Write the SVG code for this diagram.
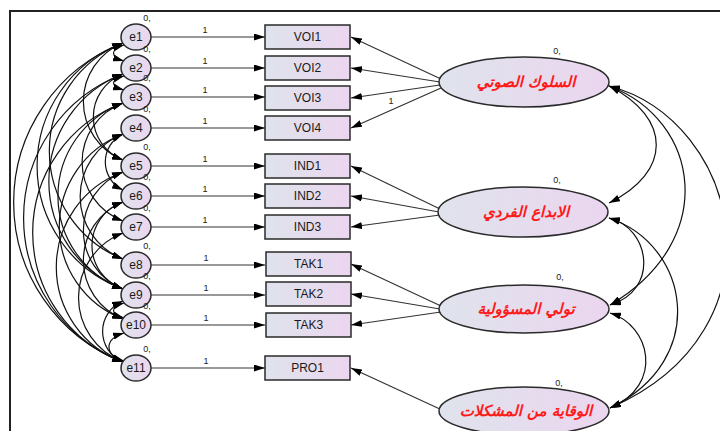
<svg xmlns="http://www.w3.org/2000/svg" width="720" height="431" viewBox="0 0 720 431">
<style>
.sh{fill:url(#g);stroke:#2a2a2a;stroke-width:1.5}
.t{font-family:"Liberation Sans",Arial,sans-serif;font-size:12px;fill:#1a1a1a;text-anchor:middle}
.s{font-family:"Liberation Sans",Arial,sans-serif;font-size:9px;fill:#222;text-anchor:middle}
.ar{font-family:"DejaVu Sans",sans-serif;font-weight:bold;font-style:italic;font-size:15px;fill:#ff1a1a;text-anchor:middle}
.c path{fill:none;stroke:#111;stroke-width:1.2;marker-end:url(#a)}
.c .b{marker-start:url(#a)}
.c .d{stroke:#333}
</style>
<defs>
<linearGradient id="g" x1="0" x2="1" y1="0" y2="0"><stop offset="0" stop-color="#dfe3ec"/><stop offset="1" stop-color="#ebd6ef"/></linearGradient>
<marker id="a" markerUnits="userSpaceOnUse" markerWidth="11" markerHeight="7" refX="11" refY="3.5" orient="auto-start-reverse"><path d="M0,0L11,3.5L0,7z" fill="#000"/></marker>
</defs>
<rect width="720" height="431" fill="#fff"/>
<path d="M10,431V11H720" fill="none" stroke="#222" stroke-width="2"/>
<g class="c" id="connectors">
<path class="d" d="M151,37H265"/><path class="d" d="M151,68H265"/><path class="d" d="M151,97H265"/><path class="d" d="M151,128H265"/>
<path class="d" d="M151,166H265"/><path class="d" d="M151,196H265"/><path class="d" d="M151,227H265"/><path class="d" d="M151,265H265"/>
<path class="d" d="M151,295H265"/><path class="d" d="M151,325H265"/><path class="d" d="M151,368H265"/>
<path class="d" d="M441,79L351,37"/><path class="d" d="M440,82L351,68"/><path class="d" d="M440,85L351,98"/><path class="d" d="M441,88L351,128"/>
<path class="d" d="M440,209L351,166"/><path class="d" d="M439,212L351,196"/><path class="d" d="M440,215L351,227"/>
<path class="d" d="M441,306L351,264"/><path class="d" d="M440,309L351,294"/><path class="d" d="M441,312L351,325"/>
<path class="d" d="M442,410L351,368"/>
<path class="b" d="M609,86C672,118 672,172 609,203"/>
<path class="b" d="M609,86C700,120 720,240 610,305"/>
<path class="b" d="M609,86C740,120 790,330 610,408"/>
<path class="b" d="M609,218C650,228 660,290 610,305"/>
<path class="b" d="M609,218C690,245 710,360 610,408"/>
<path class="b" d="M610,313C650,325 665,385 610,408"/>
<path class="b" d="M124,45C110,49 110,57 124,61"/>
<path class="b" d="M124,76C110,80 110,86 124,90"/>
<path class="b" d="M124,303C110,307 110,314 124,318"/>
<path class="b" d="M124,333C104,339 104,355 124,361"/>
<path class="b" d="M123,301A33 33 0 0 0 123,362"/>
<path class="b" d="M123,43A63 63 0 0 0 123,160"/>
<path class="b" d="M123,74A46 46 0 0 0 123,160"/>
<path class="b" d="M123,43A116 116 0 0 0 123,259"/>
<path class="b" d="M123,43A131 131 0 0 0 123,289"/>
<path class="b" d="M123,43A171 171 0 0 0 123,362"/>
<path class="b" d="M123,74A115 115 0 0 0 123,289"/>
<path class="b" d="M123,74A154 154 0 0 0 123,362"/>
<path class="b" d="M123,103A99 99 0 0 0 123,289"/>
<path class="b" d="M123,103A138 138 0 0 0 123,362"/>
<path class="b" d="M123,103A63 63 0 0 0 123,221"/>
<path class="b" d="M123,134A67 67 0 0 0 123,259"/>
<path class="b" d="M123,134A99 99 0 0 0 123,319"/>
<path class="b" d="M123,134A31 31 0 0 0 123,190"/>
<path class="b" d="M123,172A63 63 0 0 0 123,289"/>
<path class="b" d="M123,172A101 101 0 0 0 123,362"/>
<path class="b" d="M123,202A46 46 0 0 0 123,289"/>
<path class="b" d="M123,202A63 63 0 0 0 123,319"/>
<path class="b" d="M123,233A69 69 0 0 0 123,362"/>
</g>
<g id="e1"><ellipse class="sh" cx="136" cy="37" rx="15" ry="13"/><text class="t" x="136" y="41">e1</text><text class="s" x="147" y="21">0,</text></g>
<g id="e2"><ellipse class="sh" cx="136" cy="68" rx="15" ry="13"/><text class="t" x="136" y="72">e2</text><text class="s" x="147" y="52">0,</text></g>
<g id="e3"><ellipse class="sh" cx="136" cy="97" rx="15" ry="13"/><text class="t" x="136" y="101">e3</text><text class="s" x="147" y="81">0,</text></g>
<g id="e4"><ellipse class="sh" cx="136" cy="128" rx="15" ry="13"/><text class="t" x="136" y="132">e4</text><text class="s" x="147" y="112">0,</text></g>
<g id="e5"><ellipse class="sh" cx="136" cy="166" rx="15" ry="13"/><text class="t" x="136" y="170">e5</text><text class="s" x="147" y="150">0,</text></g>
<g id="e6"><ellipse class="sh" cx="136" cy="196" rx="15" ry="13"/><text class="t" x="136" y="200">e6</text><text class="s" x="147" y="180">0,</text></g>
<g id="e7"><ellipse class="sh" cx="136" cy="227" rx="15" ry="13"/><text class="t" x="136" y="231">e7</text><text class="s" x="147" y="211">0,</text></g>
<g id="e8"><ellipse class="sh" cx="136" cy="265" rx="15" ry="13"/><text class="t" x="136" y="269">e8</text><text class="s" x="147" y="249">0,</text></g>
<g id="e9"><ellipse class="sh" cx="136" cy="295" rx="15" ry="13"/><text class="t" x="136" y="299">e9</text><text class="s" x="147" y="279">0,</text></g>
<g id="e10"><ellipse class="sh" cx="136" cy="325" rx="15" ry="13"/><text class="t" x="136" y="329">e10</text><text class="s" x="147" y="309">0,</text></g>
<g id="e11"><ellipse class="sh" cx="136" cy="368" rx="15" ry="13"/><text class="t" x="136" y="372">e11</text><text class="s" x="147" y="352">0,</text></g>
<g id="w"><text class="s" x="205" y="33">1</text><text class="s" x="205" y="64">1</text><text class="s" x="205" y="93">1</text><text class="s" x="205" y="124">1</text><text class="s" x="205" y="162">1</text><text class="s" x="205" y="192">1</text><text class="s" x="205" y="223">1</text><text class="s" x="206" y="261">1</text><text class="s" x="206" y="291">1</text><text class="s" x="206" y="321">1</text><text class="s" x="206" y="364">1</text><text class="s" x="391" y="104">1</text></g>
<g id="VOI1"><rect class="sh" x="265" y="25" width="85" height="24"/><text class="t" x="307.5" y="41">VOI1</text></g>
<g id="VOI2"><rect class="sh" x="265" y="56" width="85" height="24"/><text class="t" x="307.5" y="72">VOI2</text></g>
<g id="VOI3"><rect class="sh" x="265" y="86" width="85" height="24"/><text class="t" x="307.5" y="102">VOI3</text></g>
<g id="VOI4"><rect class="sh" x="265" y="116" width="85" height="24"/><text class="t" x="307.5" y="132">VOI4</text></g>
<g id="IND1"><rect class="sh" x="265" y="154" width="85" height="24"/><text class="t" x="307.5" y="170">IND1</text></g>
<g id="IND2"><rect class="sh" x="265" y="184" width="85" height="24"/><text class="t" x="307.5" y="200">IND2</text></g>
<g id="IND3"><rect class="sh" x="265" y="215" width="85" height="24"/><text class="t" x="307.5" y="231">IND3</text></g>
<g id="TAK1"><rect class="sh" x="266" y="252" width="85" height="24"/><text class="t" x="308.5" y="268">TAK1</text></g>
<g id="TAK2"><rect class="sh" x="266" y="282" width="85" height="24"/><text class="t" x="308.5" y="298">TAK2</text></g>
<g id="TAK3"><rect class="sh" x="266" y="313" width="85" height="24"/><text class="t" x="308.5" y="329">TAK3</text></g>
<g id="PRO1"><rect class="sh" x="265" y="356" width="85" height="24"/><text class="t" x="307.5" y="372">PRO1</text></g>
<g id="L1"><ellipse class="sh" cx="524" cy="82" rx="85" ry="25"/><text class="ar" x="526" y="87">السلوك الصوتي</text><text class="s" x="557" y="54">0,</text></g>
<g id="L2"><ellipse class="sh" cx="523" cy="212" rx="85" ry="25"/><text class="ar" x="526" y="217">الابداع الفردي</text><text class="s" x="557" y="183">0,</text></g>
<g id="L3"><ellipse class="sh" cx="524" cy="309" rx="85" ry="24"/><text class="ar" x="526" y="314">تولي المسؤولية</text><text class="s" x="560" y="280">0,</text></g>
<g id="L4"><ellipse class="sh" cx="524" cy="411" rx="85" ry="24"/><text class="ar" x="526" y="416">الوقاية من المشكلات</text><text class="s" x="559" y="386">0,</text></g>
</svg>
